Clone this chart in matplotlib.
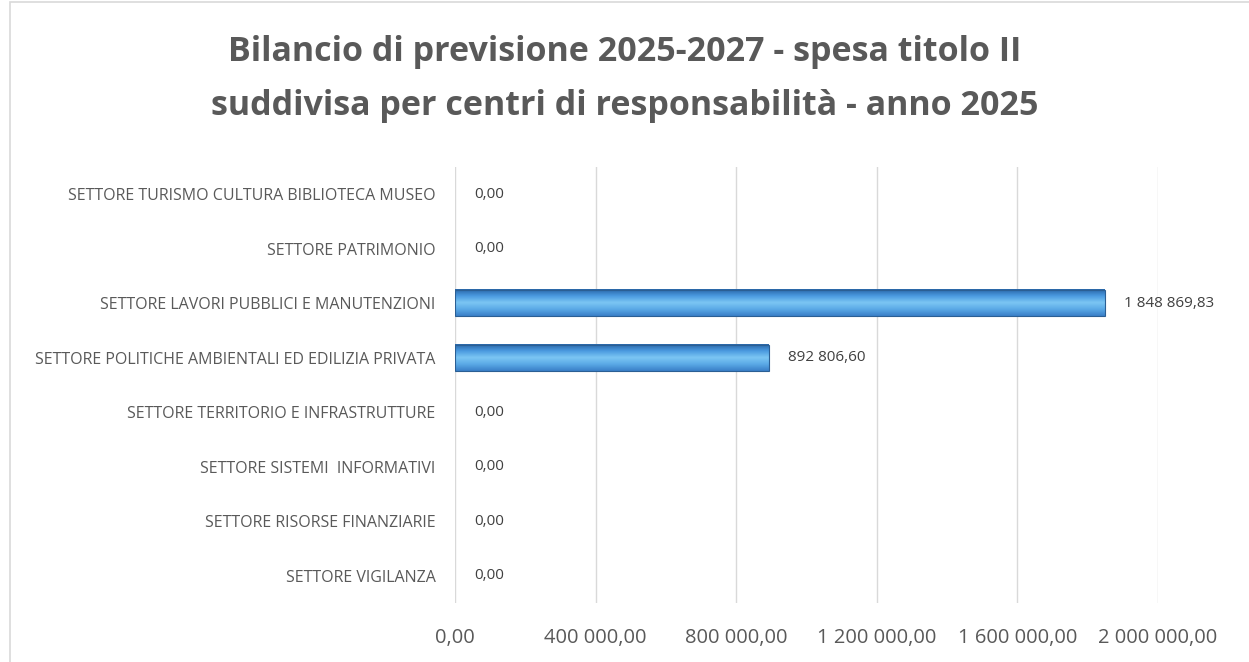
import matplotlib.pyplot as plt
import numpy as np
from matplotlib.patches import Rectangle

categories = [
    "SETTORE VIGILANZA",
    "SETTORE RISORSE FINANZIARIE",
    "SETTORE SISTEMI  INFORMATIVI",
    "SETTORE TERRITORIO E INFRASTRUTTURE",
    "SETTORE POLITICHE AMBIENTALI ED EDILIZIA PRIVATA",
    "SETTORE LAVORI PUBBLICI E MANUTENZIONI",
    "SETTORE PATRIMONIO",
    "SETTORE TURISMO CULTURA BIBLIOTECA MUSEO",
]
values = [0.0, 0.0, 0.0, 0.0, 892806.60, 1848869.83, 0.0, 0.0]
xticks = [0, 400000, 800000, 1200000, 1600000, 2000000]

title = "Bilancio di previsione 2025-2027 - spesa titolo II\nsuddivisa per centri di responsabilità - anno 2025"

grey = "#595959"
plt.rcParams['font.family'] = ['Open Sans', 'DejaVu Sans']


def fmt(v):
    s = f"{v:,.2f}"
    return s.replace(",", " ").replace(".", ",")


fig = plt.figure(figsize=(12.49, 6.62), dpi=100)
ax = fig.add_axes([455 / 1249, 1 - 603 / 662, (1158 - 455) / 1249, 436 / 662])

# gradient bars
grad = np.linspace(0, 1, 64).reshape(-1, 1)
cmap = plt.matplotlib.colors.LinearSegmentedColormap.from_list(
    "b", ["#2a67a8", "#4a9ae0", "#7cc6f4", "#5aa9e6", "#3a80c8"])
h = 0.48
for i, v in enumerate(values):
    if v > 0:
        ax.imshow(grad, cmap=cmap, aspect="auto", extent=[0, v, i - h / 2, i + h / 2],
                  origin="upper", zorder=3, interpolation="bilinear")
        ax.add_patch(Rectangle((0, i - h / 2), v, h, fill=False, edgecolor="#2b5f94",
                               linewidth=0.8, zorder=4))
    ax.text(v + 55000, i, fmt(v), va="center", ha="left", fontsize=11, color="#404040", zorder=5)

ax.set_xlim(0, 2000000)
ax.set_ylim(-0.5, len(categories) - 0.5)
ax.set_yticks(range(len(categories)))
ax.set_yticklabels(categories, fontsize=11.5, color=grey)
ax.set_xticks(xticks)
ax.set_xticklabels([fmt(t) for t in xticks], fontsize=14.5, color=grey)
ax.tick_params(axis="x", length=0, pad=18)
ax.tick_params(axis="y", length=0, pad=14)
ax.grid(axis="x", color="#d9d9d9", linewidth=1, zorder=0)
for s in ax.spines.values():
    s.set_visible(False)

fig.text(0.5, 1 - 79 / 662, title, ha="center", va="center", fontsize=24.5, fontweight="bold",
         color=grey, linespacing=1.8)

fig.patches.append(Rectangle((10 / 1249, -0.01), 1.1, 1.007, transform=fig.transFigure,
                             fill=False, edgecolor="#d9d9d9", linewidth=1.2))

fig.savefig("out.png", dpi=100)
